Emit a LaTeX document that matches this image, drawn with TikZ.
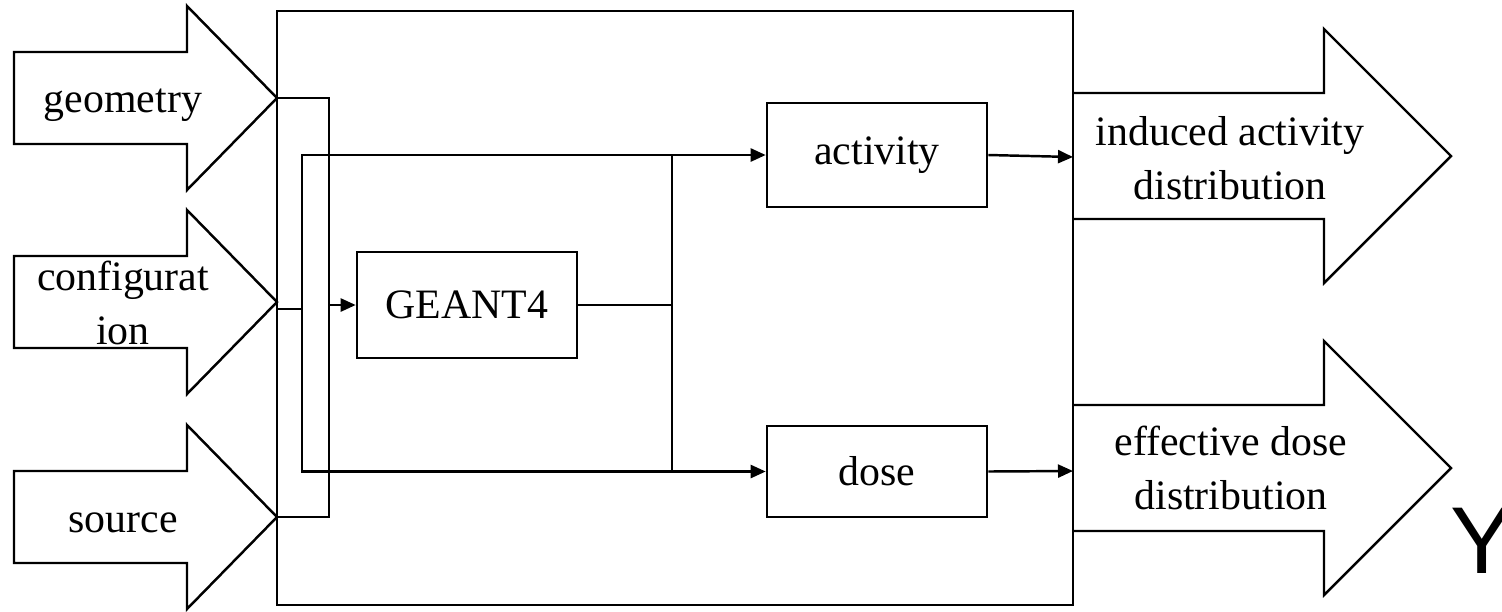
\documentclass[tikz,border=0pt]{standalone}
\usepackage{fontspec}
\setmainfont{Liberation Serif}
\newfontfamily\ysans{Liberation Sans}
\usetikzlibrary{arrows.meta}

\begin{document}
\begin{tikzpicture}[x=0.01cm, y=-0.01cm, font=\fontsize{11.9}{15.3}\selectfont, line width=0.7pt]
  \useasboundingbox (0, 0) rectangle (1502, 611);  % Rand wie im Original.

  \tikzstyle{box}=[draw, minimum width=2.2cm, inner sep=0pt]
  \tikzstyle{label}=[inner sep=0pt, anchor=base, align=center]
  \tikzstyle{wire}=[-{Triangle[length=0.15cm, width=0.13cm]}]

  \node[draw, minimum width=7.96cm, minimum height=5.94cm, inner sep=0pt] (sim) at (675, 308) {};

  \foreach \y/\name in {98/geotip, 302/cfgtip, 517/srctip} {
    \draw (14, \y-46) -- (187, \y-46) -- (187, \y-92) -- (277, \y) -- (187, \y+92) -- (187, \y+46) -- (14, \y+46) -- cycle;
    \coordinate (\name) at (277, \y);
  }
  \foreach \y in {156, 468} {
    \draw (1073, \y-63) -- (1324, \y-63) -- (1324, \y-127) -- (1451, \y) -- (1324, \y+127) -- (1324, \y+63) -- (1073, \y+63);
  }

  % base = Grundlinie der letzten Zeile
  \node[label] (geometry)      at (123, 112)  {geometry};
  \node[label] (configuration) at (123, 344)  {configurat\\ion};
  \node[label] (source)        at (123, 532)  {source};
  \node[label] (induced)       at (1230, 199) {induced activity\\distribution};
  \node[label] (effective)     at (1231, 509) {effective dose\\distribution};

  \node[box, minimum height=1.06cm] (geant)    at (467, 305)   {GEANT4};
  \node[box, minimum height=1.04cm] (activity) at (877, 155)   {activity};
  \node[box, minimum height=0.91cm] (dose)     at (877, 471.5) {dose};

  \coordinate (bus)   at (329, 305);
  \coordinate (cfgin) at (277, 309);
  \coordinate (tap)   at (302, 309);
  \coordinate (split) at (672, 305);
  \coordinate (outa)  at (1073, 157);
  \coordinate (outd)  at (1073, 471);

  \draw (geotip) -| (bus) |- (srctip);
  \draw[wire] (bus) -- (geant);
  \draw (cfgin) -- (tap);
  \draw[wire] (tap) |- (activity);
  \draw[wire] (tap) |- (dose);
  \draw (geant) -- (split);
  \draw (split |- activity.west) -- (split |- dose.west);
  \draw[wire] (activity.east) -- (outa);
  \draw[wire] (dose.east) -- (outd);

  \node[font=\ysans\fontsize{27}{30}\selectfont, anchor=base west, inner sep=0pt] (cut) at (1449, 573) {Y};
\end{tikzpicture}
\end{document}
